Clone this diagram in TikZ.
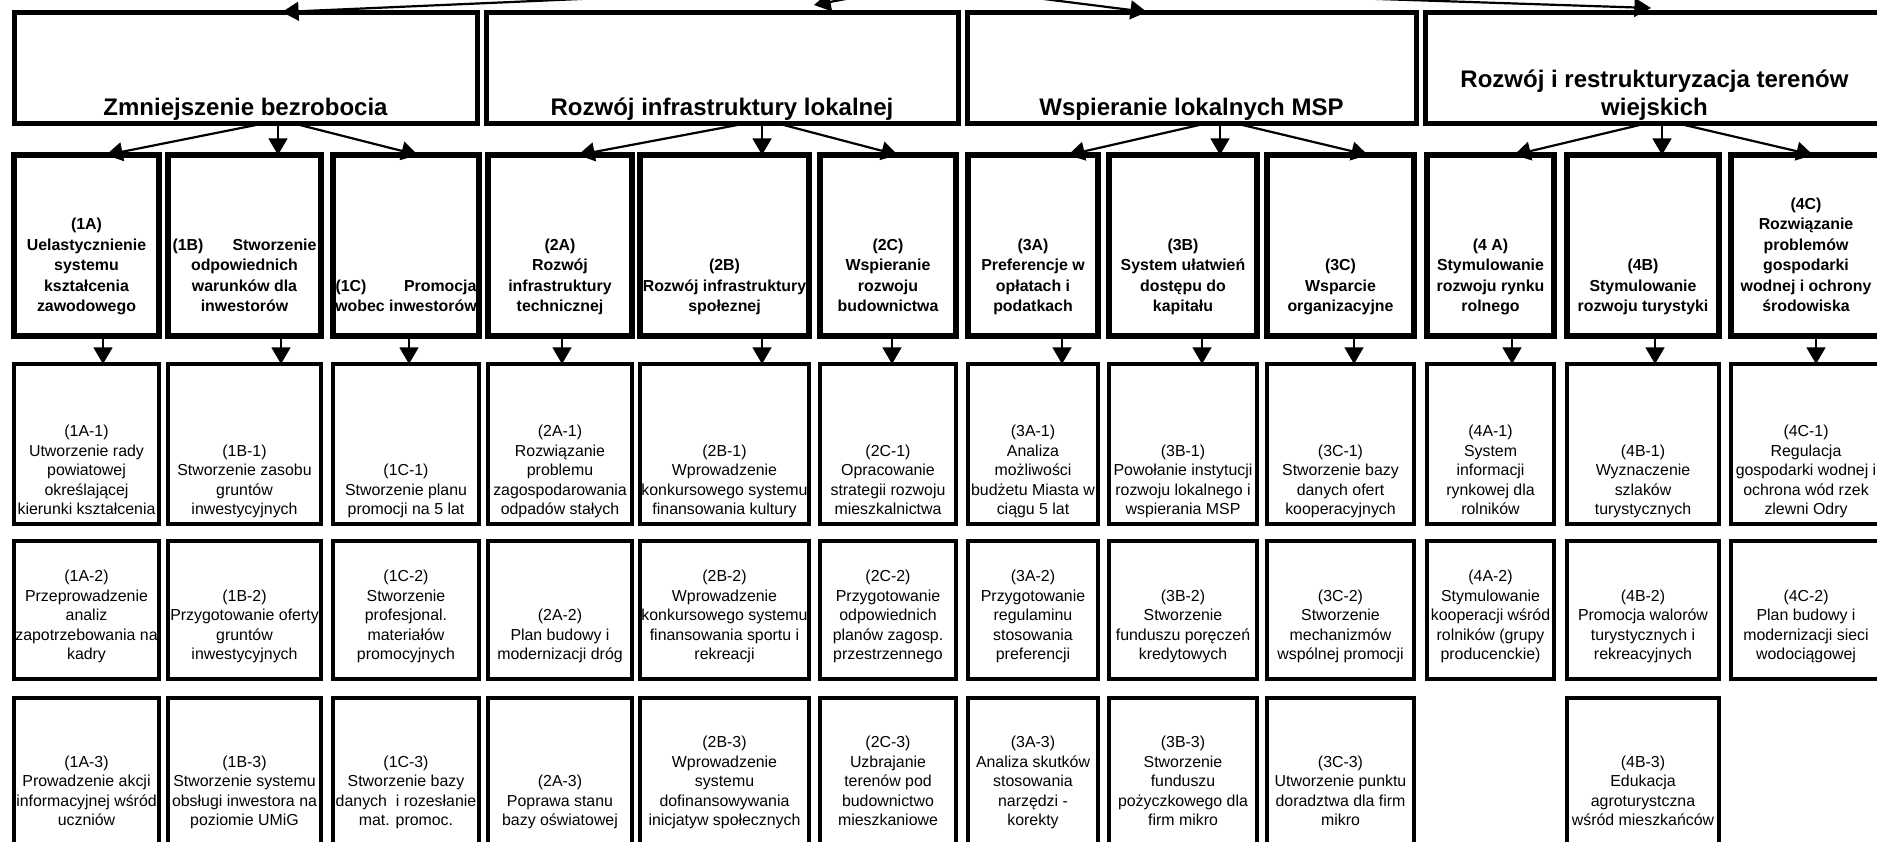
\documentclass[tikz,border=0pt]{standalone}
\usepackage{fontspec}
\setmainfont{Liberation Sans}
\usetikzlibrary{arrows.meta}
\newcommand\mkbox[9]{%
  \pgfmathsetmacro\mkbw{(#4-#2)*0.5}%
  \pgfmathsetmacro\mkbh{(#5-#3)*0.5}%
  \node[#6, minimum width=\mkbw pt, minimum height=\mkbh pt] (#1) at ({(#2+#4)/2},{(#3+#5)/2}) {};%
  \node[#7, anchor=south] (#1t) at ({(#2+#4)/2},#8) {#9\strut};%
}
\tikzset{
  bigbox/.style={draw, line width=2.5pt, inner sep=0pt, outer sep=0pt},
  midbox/.style={draw, line width=2.6pt, inner sep=0pt, outer sep=0pt},
  lowbox/.style={draw, line width=1.7pt, inner sep=0pt, outer sep=0pt},
  toptxt/.style={font=\fontsize{12}{14}\selectfont\bfseries, align=center, inner sep=0pt, yshift=-4.2pt},
  midtxt/.style={font=\fontsize{7.95}{10.25}\selectfont\bfseries, align=center, inner sep=0pt, yshift=-3.075pt},
  lowtxt/.style={font=\fontsize{7.95}{9.75}\selectfont, align=center, inner sep=0pt, yshift=-2.925pt},
  arr/.style={line width=1.1pt, -{Triangle[width=9.4pt,length=8.3pt]}},
}
\begin{document}
\begin{tikzpicture}[x=0.5pt, y=-0.5pt]
\useasboundingbox (0,0) rectangle (1877,841);
\fill[white] (0,0) rectangle (1877,841);
\clip (0,0) rectangle (1877,841);

% ---------- top level ----------
\mkbox{T1}{14}{12}{477}{123}{bigbox}{toptxt}{116}{Zmniejszenie bezrobocia}
\mkbox{T2}{486}{12}{958}{123}{bigbox}{toptxt}{116}{Rozwój infrastruktury lokalnej}
\mkbox{T3}{967}{12}{1416}{123}{bigbox}{toptxt}{116}{Wspieranie lokalnych MSP}
\mkbox{T4}{1425}{12}{1884}{123}{bigbox}{toptxt}{116}{Rozwój i restrukturyzacja terenów\\wiejskich}

% ---------- level 1 ----------
\mkbox{L1A}{14}{155}{159}{336}{midbox}{midtxt}{312}{(1A)\\Uelastycznienie\\systemu\\kształcenia\\zawodowego}
\mkbox{L1B}{168}{155}{321}{336}{midbox}{midtxt}{312}{\makebox[72pt]{(1B)\hfill Stworzenie}\\odpowiednich\\warunków dla\\inwestorów}
\mkbox{L1C}{333}{155}{479}{336}{midbox}{midtxt}{312}{\makebox[70.5pt]{(1C)\hfill Promocja}\\wobec inwestorów}
\mkbox{L2A}{488}{155}{632}{336}{midbox}{midtxt}{312}{(2A)\\Rozwój\\infrastruktury\\technicznej}
\mkbox{L2B}{640}{155}{809}{336}{midbox}{midtxt}{312}{(2B)\\Rozwój infrastruktury\\społeznej}
\mkbox{L2C}{820}{155}{956}{336}{midbox}{midtxt}{312}{(2C)\\Wspieranie\\rozwoju\\budownictwa}
\mkbox{L3A}{968}{155}{1098}{336}{midbox}{midtxt}{312}{(3A)\\Preferencje w\\opłatach i\\podatkach}
\mkbox{L3B}{1109}{155}{1257}{336}{midbox}{midtxt}{312}{(3B)\\System ułatwień\\dostępu do\\kapitału}
\mkbox{L3C}{1267}{155}{1414}{336}{midbox}{midtxt}{312}{(3C)\\Wsparcie\\organizacyjne}
\mkbox{L4A}{1427}{155}{1554}{336}{midbox}{midtxt}{312}{(4 A)\\Stymulowanie\\rozwoju rynku\\rolnego}
\mkbox{L4B}{1567}{155}{1719}{336}{midbox}{midtxt}{312}{(4B)\\Stymulowanie\\rozwoju turystyki}
\mkbox{L4C}{1731}{155}{1881}{336}{midbox}{midtxt}{312}{(4C)\\Rozwiązanie\\problemów\\gospodarki\\wodnej i ochrony\\środowiska}

% ---------- row 2 ----------
\mkbox{R1A1}{14}{364}{159}{524}{lowbox}{lowtxt}{515}{(1A-1)\\Utworzenie rady\\powiatowej\\określającej\\kierunki kształcenia}
\mkbox{R1B1}{168}{364}{321}{524}{lowbox}{lowtxt}{515}{(1B-1)\\Stworzenie zasobu\\gruntów\\inwestycyjnych}
\mkbox{R1C1}{333}{364}{479}{524}{lowbox}{lowtxt}{515}{(1C-1)\\Stworzenie planu\\promocji na 5 lat}
\mkbox{R2A1}{488}{364}{632}{524}{lowbox}{lowtxt}{515}{(2A-1)\\Rozwiązanie\\problemu\\zagospodarowania\\odpadów stałych}
\mkbox{R2B1}{640}{364}{809}{524}{lowbox}{lowtxt}{515}{(2B-1)\\Wprowadzenie\\konkursowego systemu\\finansowania kultury}
\mkbox{R2C1}{820}{364}{956}{524}{lowbox}{lowtxt}{515}{(2C-1)\\Opracowanie\\strategii rozwoju\\mieszkalnictwa}
\mkbox{R3A1}{968}{364}{1098}{524}{lowbox}{lowtxt}{515}{(3A-1)\\Analiza\\możliwości\\budżetu Miasta w\\ciągu 5 lat}
\mkbox{R3B1}{1109}{364}{1257}{524}{lowbox}{lowtxt}{515}{(3B-1)\\Powołanie instytucji\\rozwoju lokalnego i\\wspierania MSP}
\mkbox{R3C1}{1267}{364}{1414}{524}{lowbox}{lowtxt}{515}{(3C-1)\\Stworzenie bazy\\danych ofert\\kooperacyjnych}
\mkbox{R4A1}{1427}{364}{1554}{524}{lowbox}{lowtxt}{515}{(4A-1)\\System\\informacji\\rynkowej dla\\rolników}
\mkbox{R4B1}{1567}{364}{1719}{524}{lowbox}{lowtxt}{515}{(4B-1)\\Wyznaczenie\\szlaków\\turystycznych}
\mkbox{R4C1}{1731}{364}{1881}{524}{lowbox}{lowtxt}{515}{(4C-1)\\Regulacja\\gospodarki wodnej i\\ochrona wód rzek\\zlewni Odry}

% ---------- row 3 ----------
\mkbox{R1A2}{14}{541}{159}{679}{lowbox}{lowtxt}{660}{(1A-2)\\Przeprowadzenie\\analiz\\zapotrzebowania na\\kadry}
\mkbox{R1B2}{168}{541}{321}{679}{lowbox}{lowtxt}{660}{(1B-2)\\Przygotowanie oferty\\gruntów\\inwestycyjnych}
\mkbox{R1C2}{333}{541}{479}{679}{lowbox}{lowtxt}{660}{(1C-2)\\Stworzenie\\profesjonal.\\materiałów\\promocyjnych}
\mkbox{R2A2}{488}{541}{632}{679}{lowbox}{lowtxt}{660}{(2A-2)\\Plan budowy i\\modernizacji dróg}
\mkbox{R2B2}{640}{541}{809}{679}{lowbox}{lowtxt}{660}{(2B-2)\\Wprowadzenie\\konkursowego systemu\\finansowania sportu i\\rekreacji}
\mkbox{R2C2}{820}{541}{956}{679}{lowbox}{lowtxt}{660}{(2C-2)\\Przygotowanie\\odpowiednich\\planów zagosp.\\przestrzennego}
\mkbox{R3A2}{968}{541}{1098}{679}{lowbox}{lowtxt}{660}{(3A-2)\\Przygotowanie\\regulaminu\\stosowania\\preferencji}
\mkbox{R3B2}{1109}{541}{1257}{679}{lowbox}{lowtxt}{660}{(3B-2)\\Stworzenie\\funduszu poręczeń\\kredytowych}
\mkbox{R3C2}{1267}{541}{1414}{679}{lowbox}{lowtxt}{660}{(3C-2)\\Stworzenie\\mechanizmów\\wspólnej promocji}
\mkbox{R4A2}{1427}{541}{1554}{679}{lowbox}{lowtxt}{660}{(4A-2)\\Stymulowanie\\kooperacji wśród\\rolników (grupy\\producenckie)}
\mkbox{R4B2}{1567}{541}{1719}{679}{lowbox}{lowtxt}{660}{(4B-2)\\Promocja walorów\\turystycznych i\\rekreacyjnych}
\mkbox{R4C2}{1731}{541}{1881}{679}{lowbox}{lowtxt}{660}{(4C-2)\\Plan budowy i\\modernizacji sieci\\wodociągowej}

% ---------- row 4 ----------
\mkbox{R1A3}{14}{698}{159}{870}{lowbox}{lowtxt}{826}{(1A-3)\\Prowadzenie akcji\\informacyjnej wśród\\uczniów}
\mkbox{R1B3}{168}{698}{321}{870}{lowbox}{lowtxt}{826}{(1B-3)\\Stworzenie systemu\\obsługi inwestora na\\poziomie UMiG}
\mkbox{R1C3}{333}{698}{479}{870}{lowbox}{lowtxt}{826}{(1C-3)\\Stworzenie bazy\\danych \ i rozesłanie\\mat. promoc.}
\mkbox{R2A3}{488}{698}{632}{870}{lowbox}{lowtxt}{826}{(2A-3)\\Poprawa stanu\\bazy oświatowej}
\mkbox{R2B3}{640}{698}{809}{870}{lowbox}{lowtxt}{826}{(2B-3)\\Wprowadzenie\\systemu\\dofinansowywania\\inicjatyw społecznych}
\mkbox{R2C3}{820}{698}{956}{870}{lowbox}{lowtxt}{826}{(2C-3)\\Uzbrajanie\\terenów pod\\budownictwo\\mieszkaniowe}
\mkbox{R3A3}{968}{698}{1098}{870}{lowbox}{lowtxt}{826}{(3A-3)\\Analiza skutków\\stosowania\\narzędzi -\\korekty}
\mkbox{R3B3}{1109}{698}{1257}{870}{lowbox}{lowtxt}{826}{(3B-3)\\Stworzenie\\funduszu\\pożyczkowego dla\\firm mikro}
\mkbox{R3C3}{1267}{698}{1414}{870}{lowbox}{lowtxt}{826}{(3C-3)\\Utworzenie punktu\\doradztwa dla firm\\mikro}
\mkbox{R4B3}{1567}{698}{1719}{870}{lowbox}{lowtxt}{826}{(4B-3)\\Edukacja\\agroturystczna\\wśród mieszkańców}

% ---------- connector x positions ----------
\foreach \n/\x in {d1A/103,d1B/281,d1C/409,d2A/562,d2B/762,d2C/892,d3A/1062,d3B/1202,d3C/1354,d4A/1512,d4B/1655,d4C/1816,
  a1A/106,a1B/278,a1C/418,a2A/578,a2B/762,a2C/898,a3A/1068,a3B/1220,a3C/1368,a4A/1514,a4B/1662,a4C/1813,
  m1l/266,m1/278,m1r/292,m2l/748,m2/762,m2r/776,m3l/1208,m3/1220,m3r/1234,m4l/1648,m4/1662,m4r/1676,
  p1/282,p3/1147}
  \coordinate (\n) at (\x,0);
\coordinate (src) at (925,-16);
\coordinate (p2) at (814,5);
\coordinate (p4) at (1651,8);

% ---------- connectors from above ----------
\draw[arr] (src) -- (T1.north -| p1);
\draw[arr] (src) -- (p2);
\draw[arr] (src) -- (T3.north -| p3);
\draw[arr] (src) -- (p4);

% ---------- top level to level 1 ----------
\draw[arr] (T1.south -| m1l) -- (L1A.north -| a1A);
\draw[arr] (T1.south -| m1)  -- (L1B.north -| a1B);
\draw[arr] (T1.south -| m1r) -- (L1C.north -| a1C);
\draw[arr] (T2.south -| m2l) -- (L2A.north -| a2A);
\draw[arr] (T2.south -| m2)  -- (L2B.north -| a2B);
\draw[arr] (T2.south -| m2r) -- (L2C.north -| a2C);
\draw[arr] (T3.south -| m3l) -- (L3A.north -| a3A);
\draw[arr] (T3.south -| m3)  -- (L3B.north -| a3B);
\draw[arr] (T3.south -| m3r) -- (L3C.north -| a3C);
\draw[arr] (T4.south -| m4l) -- (L4A.north -| a4A);
\draw[arr] (T4.south -| m4)  -- (L4B.north -| a4B);
\draw[arr] (T4.south -| m4r) -- (L4C.north -| a4C);

% ---------- level 1 to row 2 ----------
\foreach \c in {1A,1B,1C,2A,2B,2C,3A,3B,3C,4A,4B,4C}
  \draw[arr] (L\c.south -| d\c) -- (R\c1.north -| d\c);
\end{tikzpicture}
\end{document}
